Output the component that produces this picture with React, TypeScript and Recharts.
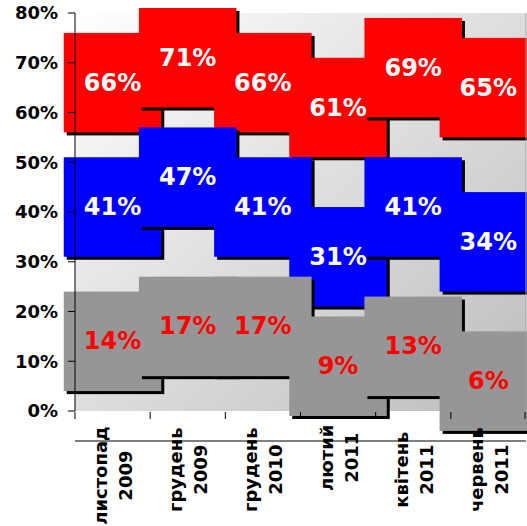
import { BarChart, Bar, XAxis, YAxis, CartesianGrid, LabelList } from 'recharts';

const MONTHS = ['листопад', 'грудень', 'грудень', 'лютий', 'квітень', 'червень'];
const YEARS = ['2009', '2009', '2010', '2011', '2011', '2011'];
const RED = [66, 71, 66, 61, 69, 65];
const BLUE = [41, 47, 41, 31, 41, 34];
const GREY = [14, 17, 17, 9, 13, 6];
const Y_TICKS = [0, 10, 20, 30, 40, 50, 60, 70, 80];

const FONT = 'Verdana, "DejaVu Sans", sans-serif';
const BAND_HALF = 10; // half height of a band, in axis units
const BAND_SPREAD = 1.3; // band width relative to the category width
const TICK_SHIFT = 29; // custom tick y comes in below the axis line

const data = MONTHS.map((m, i) => ({
  key: `${m} ${YEARS[i]}`,
  month: m,
  year: YEARS[i],
  red: RED[i],
  blue: BLUE[i],
  grey: GREY[i],
}));

function bandShape(fill: string) {
  return (props: any) => {
    const { x, y, width, height } = props;
    const raw = props.value;
    const v = Array.isArray(raw) ? raw[1] : raw;
    if (!v || !height) return <g />;
    const ppu = height / v;
    const w = width * BAND_SPREAD;
    const left = x + width / 2 - w / 2;
    const top = y - BAND_HALF * ppu;
    const h = 2 * BAND_HALF * ppu;
    return (
      <g>
        <rect x={left + 3} y={top + 3} width={w} height={h} fill="#000" />
        <rect x={left} y={top} width={w} height={h} fill={fill} />
      </g>
    );
  };
}

function valueLabel(color: string) {
  return (props: any) => {
    const vb = props.viewBox && props.viewBox.width != null ? props.viewBox : props;
    const x = Number(vb.x) + Number(vb.width) / 2;
    const y = Number(vb.y);
    return (
      <text
        x={x}
        y={y}
        fill={color}
        textAnchor="middle"
        dominantBaseline="central"
        fontSize={24}
        fontWeight="bold"
        fontFamily={FONT}
      >
        {props.value}%
      </text>
    );
  };
}

function MonthTick(props: any) {
  const { x, payload, index } = props;
  const y = props.y - TICK_SHIFT;
  const half = (payload && payload.offset) || 37.6;
  const d = data[index];
  if (!d) return <g />;
  const block = Math.max(d.month.length, d.year.length) * 11.9;
  const cy = y + 16 + block / 2;
  const textProps = {
    textAnchor: 'middle' as const,
    fontSize: 18,
    fontWeight: 'bold' as const,
    fontFamily: FONT,
    fill: '#000',
  };
  return (
    <g>
      <line x1={x - half} y1={y} x2={x - half} y2={y + 7} stroke="#000" />
      {index === data.length - 1 && (
        <line x1={x + half - 1} y1={y} x2={x + half - 1} y2={y + 7} stroke="#000" />
      )}
      <text transform={`translate(${x - 5.5},${cy}) rotate(-90)`} {...textProps}>
        {d.month}
      </text>
      <text transform={`translate(${x + 19.5},${cy}) rotate(-90)`} {...textProps}>
        {d.year}
      </text>
    </g>
  );
}

export default function App() {
  return (
    <div style={{ position: 'absolute', left: 0, top: 0, width: 527, height: 526, background: '#fff' }}>
      <BarChart
        width={527}
        height={526}
        data={data}
        barCategoryGap={0}
        barGap={0}
        margin={{ top: 13, right: 0, left: 0, bottom: 0 }}
      >
        <defs>
          <linearGradient id="plotBg" x1="0" y1="0" x2="1" y2="1">
            <stop offset="0%" stopColor="#ffffff" />
            <stop offset="100%" stopColor="#bcbcbc" />
          </linearGradient>
        </defs>
        <CartesianGrid horizontal={false} vertical={false} fill="url(#plotBg)" />
        <XAxis xAxisId="r" dataKey="key" hide />
        <XAxis xAxisId="b" dataKey="key" hide />
        <XAxis
          xAxisId="top"
          dataKey="key"
          orientation="top"
          height={0}
          tick={false}
          tickLine={false}
          axisLine={{ stroke: '#a0a0a0' }}
        />
        <XAxis
          xAxisId="g"
          dataKey="key"
          height={115}
          interval={0}
          tickSize={0}
          tickMargin={0}
          tickLine={false}
          axisLine={{ stroke: '#000' }}
          tick={<MonthTick />}
        />
        <YAxis
          domain={[0, 80]}
          ticks={Y_TICKS}
          interval={0}
          width={75}
          tickSize={7}
          tickMargin={10}
          tickFormatter={(v) => `${v}%`}
          axisLine={{ stroke: '#000' }}
          tickLine={{ stroke: '#000' }}
          tick={{ fontSize: 18, fontWeight: 'bold', fill: '#000', fontFamily: FONT }}
        />
        <YAxis
          yAxisId="border"
          orientation="right"
          domain={[0, 80]}
          width={1}
          tick={false}
          tickLine={false}
          axisLine={{ stroke: '#a0a0a0' }}
        />
        <Bar dataKey="red" xAxisId="r" shape={bandShape('#ff0000')} isAnimationActive={false}>
          <LabelList dataKey="red" content={valueLabel('#ffffff')} />
        </Bar>
        <Bar dataKey="blue" xAxisId="b" shape={bandShape('#0000ff')} isAnimationActive={false}>
          <LabelList dataKey="blue" content={valueLabel('#ffffff')} />
        </Bar>
        <Bar dataKey="grey" xAxisId="g" shape={bandShape('#969696')} isAnimationActive={false}>
          <LabelList dataKey="grey" content={valueLabel('#ff0000')} />
        </Bar>
      </BarChart>
    </div>
  );
}
